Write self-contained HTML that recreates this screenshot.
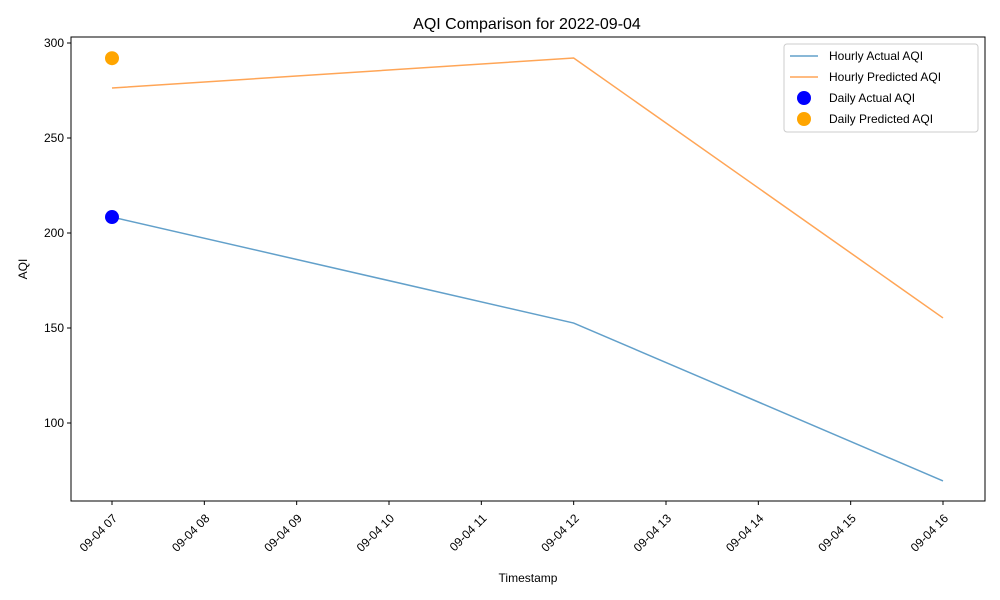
<!DOCTYPE html>
<html><head><meta charset="utf-8"><style>
body{margin:0;background:#fff;}
svg{display:block;font-family:"Liberation Sans","DejaVu Sans",sans-serif;}
</style></head><body>
<svg id="chart" width="1000" height="600"></svg>
<script>
const hours = [7, 12, 16];
const actualAQI = [208.4, 152.6, 69.5];
const predictedAQI = [276.3, 292.1, 155.3];
const dailyHour = [7];
const dailyActual = [208.4];
const dailyPredicted = [292.0];
const xTicks = [7,8,9,10,11,12,13,14,15,16];
const yTicks = [100,150,200,250,300];

const svg = document.getElementById('chart');
const NS = 'http://www.w3.org/2000/svg';
const L=71,R=985,T=37,B=501;
const xs = h => 112 + (h-7)*(943-112)/9;
const ys = v => 43 + (300-v)*1.9;
function mk(tag, attrs, txt){const e=document.createElementNS(NS,tag);for(const k in attrs)e.setAttribute(k,attrs[k]);if(txt!==undefined)e.textContent=txt;svg.appendChild(e);return e;}

let t=mk('text',{x:527,y:29,'text-anchor':'middle','font-size':16},'AQI Comparison for 2022-09-04');



yTicks.forEach(v=>{
  const y=ys(v);
  let l=mk('line',{x1:L-4,x2:L,y1:y,y2:y,stroke:'#000'});
  
  
  let tx=mk('text',{x:L-7,y:y+4,'text-anchor':'end','font-size':12},String(v));
  
  
});
xTicks.forEach(h=>{
  const x=xs(h);
  let l=mk('line',{x1:x,x2:x,y1:B,y2:B+4,stroke:'#000'});
  
  
  const lab='09-04 '+String(h).padStart(2,'0');
  const ax=x+6, ay=B+18;
  let tx=mk('text',{x:ax,y:ay,'text-anchor':'end','font-size':12,transform:`rotate(-45 ${ax} ${ay})`},lab);
  
  
});

function line(vals,color,name){
  const p=mk('polyline',{points:hours.map((h,i)=>xs(h)+','+ys(vals[i])).join(' '),fill:'none',stroke:color,'stroke-width':1.5,'stroke-opacity':0.7});
  
  
}
line(actualAQI,'#1f77b4','hourly-actual-line');
line(predictedAQI,'#ff7f0e','hourly-predicted-line');

dailyHour.forEach((h,i)=>{
  let c=mk('circle',{cx:xs(h),cy:ys(dailyActual[i]),r:7,fill:'#0000ff'});
  
  
  let c2=mk('circle',{cx:xs(h),cy:ys(dailyPredicted[i]),r:7,fill:'#ffa500'});
  
  
});

let fr=mk('rect',{x:L,y:T,width:R-L,height:B-T,fill:'none',stroke:'#000','stroke-width':1});



let xl=mk('text',{x:528,y:582,'text-anchor':'middle','font-size':12},'Timestamp');


let yl=mk('text',{x:27,y:269,'text-anchor':'middle','font-size':12,transform:'rotate(-90 27 269)'},'AQI');



let lg=mk('rect',{x:784,y:44,width:194,height:88,rx:3,fill:'#fff',stroke:'#ccc'});


const entries=[['Hourly Actual AQI','line','#1f77b4'],['Hourly Predicted AQI','line','#ff7f0e'],['Daily Actual AQI','dot','#0000ff'],['Daily Predicted AQI','dot','#ffa500']];
entries.forEach((e,i)=>{
  const y=56+i*21;
  let m;
  if(e[1]==='line') m=mk('line',{x1:790,x2:818,y1:y,y2:y,stroke:e[2],'stroke-width':1.5,'stroke-opacity':0.7});
  else m=mk('circle',{cx:804,cy:y,r:7,fill:e[2]});
  
  
  let tx=mk('text',{x:829,y:y+4,'font-size':12},e[0]);
  
  
});
</script>
</body></html>
